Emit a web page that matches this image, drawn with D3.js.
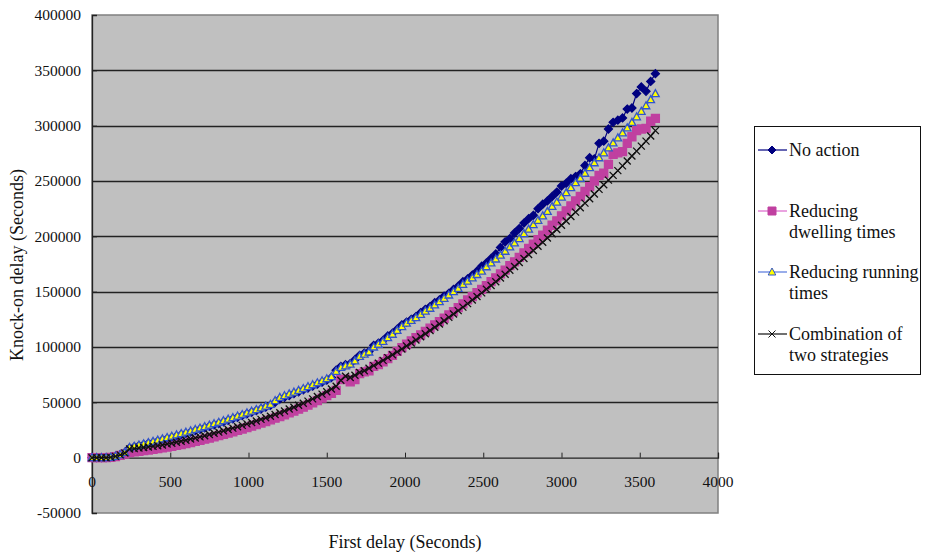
<!DOCTYPE html>
<html>
<head>
<meta charset="utf-8">
<script src="https://cdn.jsdelivr.net/npm/d3@7"></script>
<style>
  body { margin: 0; background: #fff; }
</style>
</head>
<body>
<div id="chart"></div>
<script>
// first delay (s)
var firstDelay = [0,30,60,90,120,150,180,210,240,270,300,330,360,390,420,450,480,510,540,570,
  600,630,660,690,720,750,780,810,840,870,900,930,960,990,1020,1050,1080,1110,1140,1170,
  1200,1230,1260,1290,1320,1350,1380,1410,1440,1470,1500,1530,1560,1590,1620,1650,1680,1710,1740,1770,
  1800,1830,1860,1890,1920,1950,1980,2010,2040,2070,2100,2130,2160,2190,2220,2250,2280,2310,2340,2370,
  2400,2430,2460,2490,2520,2550,2580,2610,2640,2670,2700,2730,2760,2790,2820,2850,2880,2910,2940,2970,
  3000,3030,3060,3090,3120,3150,3180,3210,3240,3270,3300,3330,3360,3390,3420,3450,3480,3510,3540,3570,3600];

var noAction = [0,0,0,0,300,1300,2800,4800,8800,9800,10800,11800,12800,13800,14900,16000,17100,18300,19500,20700,
  21900,23100,24400,25700,27000,28300,29600,30900,32300,33700,35100,36500,38000,39500,41000,42500,44000,45600,47200,50000,
  53000,54600,56200,57800,59500,61200,62900,64600,66400,68200,70000,72500,79000,82500,84000,85000,88500,92500,94500,96000,
  101500,103500,106000,110000,112500,116000,120000,122500,125000,127500,131000,134000,136500,140000,142500,146000,148500,152000,155000,159000,
  161500,165000,168500,173000,176000,180000,184000,190000,195000,198000,203000,207000,212000,216000,219000,225000,229000,232000,236000,240000,
  245500,248000,252000,254000,256500,264000,271000,270000,284000,286000,297000,303000,305000,307000,315000,316000,329000,335000,331000,340000,347000];

var dwelling = [0,0,0,0,200,900,2000,3200,4600,5200,5800,6300,6900,7500,8100,8800,9500,10300,11100,11900,
  12800,13700,14700,15700,16700,17700,18800,19900,21000,22200,23400,24600,25900,27200,28500,29900,31300,32700,34200,35700,
  37200,38800,40400,42100,43800,45600,47500,49500,51600,53800,56000,58200,60800,70500,71000,68500,70500,76000,77500,78500,
  82500,84000,86500,89500,92500,96000,99500,102500,105500,108500,111000,114000,117000,120000,123000,126000,129000,132000,135500,139000,
  142500,145500,149000,152000,155500,159000,162500,166000,169500,173500,177000,181000,185000,189000,193000,197000,201000,205500,210000,214000,
  218500,223000,227500,232000,236000,240500,245000,250000,255000,257000,265000,274000,275500,276500,284000,290000,295500,297000,297500,304000,306500];

var running = [0,0,0,0,300,1300,2800,4800,9200,10300,11400,12500,13600,14700,15800,17000,18200,19400,20600,21800,
  23000,24200,25500,26800,28100,29400,30700,32000,33400,34800,36200,37600,39000,40500,42000,43500,45000,46600,48200,51500,
  54500,56000,57600,59200,60800,62500,64200,65900,67700,69500,71300,73200,78000,81500,83000,84500,87500,91500,93500,95500,
  100000,102500,105000,108500,111500,115000,118500,121500,124000,126500,129500,132500,135000,138000,141000,144000,147000,150000,153000,156500,
  159500,162500,165500,168500,172500,176000,179500,183000,186500,190500,194000,198000,202500,206500,210500,214500,218500,222500,227000,231000,
  235500,239500,244000,248500,252500,257000,262000,266500,271000,275500,280000,284500,289000,293500,298000,303000,308000,313000,318000,323500,329000];

var combination = [0,0,0,0,300,1200,2500,4200,7800,8200,8700,9200,9700,10200,10800,11500,12300,13100,14000,14900,
  15800,16800,17800,18800,19800,20900,22000,23100,24300,25500,26700,27900,29200,30500,31800,33200,34600,36000,37500,39000,
  40600,42200,43900,45600,47400,49200,51100,53100,55200,57400,59600,62000,64500,70000,73500,72500,74500,77000,78500,80800,
  83200,85400,87900,90400,93000,95600,98200,100900,103600,106400,109200,112000,114900,117800,120800,123700,126800,129800,132900,136000,
  139200,142400,145600,148900,152200,155500,158900,162300,165800,169300,172800,176400,180000,183600,187200,191000,194700,198500,202300,206100,
  210000,213900,217900,221900,225900,230000,234000,238200,242400,246600,250800,255100,259400,263700,268100,272600,277000,281500,286000,290600,295500];

var legendLines = [["No action"], ["Reducing", "dwelling times"], ["Reducing running", "times"], ["Combination of", "two strategies"]];
var xTicks = [0,500,1000,1500,2000,2500,3000,3500,4000];
var yTicks = [-50000,0,50000,100000,150000,200000,250000,300000,350000,400000];

var W = 925, H = 554;
var FONT = "'Liberation Serif', 'DejaVu Serif', serif";
var svg = d3.select("#chart").append("svg")
  .attr("width", W).attr("height", H)
  .style("display", "block")
  .attr("font-family", FONT);

var x = d3.scaleLinear().domain([0, 4000]).range([92, 718]);
var y = d3.scaleLinear().domain([-50000, 400000]).range([513, 15]);

// plot area
svg.append("rect")
  .attr("x", x(0)).attr("y", y(400000))
  .attr("width", x(4000) - x(0)).attr("height", y(-50000) - y(400000))
  .attr("fill", "#c0c0c0").attr("stroke", "#808080").attr("stroke-width", 1.5);

// gridlines
svg.append("g").selectAll("line")
  .data(yTicks.filter(d => d > 0 && d < 400000))
  .enter().append("line")
  .attr("x1", x(0)).attr("x2", x(4000))
  .attr("y1", d => Math.round(y(d)) + 0.5).attr("y2", d => Math.round(y(d)) + 0.5)
  .attr("stroke", "#222").attr("stroke-width", 1.3);

// y axis
var yAxis = svg.append("g")
  .attr("transform", "translate(" + x(0) + ",0)")
  .call(d3.axisRight(y).tickValues(yTicks).tickSize(5).tickFormat(""));
yAxis.select(".domain").attr("stroke", "#222").attr("stroke-width", 1.3);
yAxis.selectAll(".tick line").attr("stroke", "#222");

svg.append("g").selectAll("text")
  .data(yTicks).enter().append("text")
  .attr("x", 81).attr("y", d => y(d)).attr("dy", "0.35em")
  .attr("text-anchor", "end").attr("font-size", 15.5).attr("fill", "#111")
  .attr("font-family", FONT)
  .text(d => d);

// x axis at zero
var xAxis = svg.append("g")
  .attr("transform", "translate(0," + y(0) + ")")
  .call(d3.axisTop(x).tickValues(xTicks).tickSize(5).tickFormat(""));
xAxis.select(".domain").attr("stroke", "#222").attr("stroke-width", 1.3);
xAxis.selectAll(".tick line").attr("stroke", "#222");

svg.append("g").selectAll("text")
  .data(xTicks).enter().append("text")
  .attr("x", d => x(d)).attr("y", y(0) + 24).attr("dy", "0.35em")
  .attr("text-anchor", "middle").attr("font-size", 15.5).attr("fill", "#111")
  .attr("font-family", FONT)
  .text(d => d);

// axis titles
svg.append("text")
  .attr("x", 405).attr("y", 548)
  .attr("text-anchor", "middle").attr("font-size", 18).attr("fill", "#111")
  .attr("font-family", FONT)
  .text("First delay (Seconds)");
svg.append("text")
  .attr("transform", "translate(23,265) rotate(-90)")
  .attr("text-anchor", "middle").attr("font-size", 18).attr("fill", "#111")
  .attr("font-family", FONT)
  .text("Knock-on delay (Seconds)");

// series
var styles = [
  { line: "#000080", marker: "diamond", fill: "#000080", stroke: "#000080" },
  { line: "#dd66cc", marker: "square", fill: "#c040a0", stroke: "#c040a0" },
  { line: "#5577dd", marker: "triangle", fill: "#ffff00", stroke: "#3355cc" },
  { line: "#111111", marker: "cross", fill: "none", stroke: "#111111" }
];
var values = [noAction, dwelling, running, combination];

function markerPath(kind) {
  if (kind === "diamond") return "M0,-4L4,0L0,4L-4,0Z";
  if (kind === "square") return "M-4,-4H4V4H-4Z";
  if (kind === "triangle") return "M0,-4L3.8,3L-3.8,3Z";
  return "M-3.5,-3.5L3.5,3.5M-3.5,3.5L3.5,-3.5";
}

var line = d3.line().x(d => x(d[0])).y(d => y(d[1]));

values.forEach(function (vals, i) {
  var pts = firstDelay.map((t, k) => [t, vals[k]]);
  var st = styles[i];
  var g = svg.append("g").attr("class", "series");
  g.append("path").datum(pts)
    .attr("d", line).attr("fill", "none")
    .attr("stroke", st.line).attr("stroke-width", 1.2);
  g.selectAll("path.m").data(pts).enter().append("path")
    .attr("class", "m")
    .attr("transform", d => "translate(" + x(d[0]) + "," + y(d[1]) + ")")
    .attr("d", markerPath(st.marker))
    .attr("fill", st.fill).attr("stroke", st.stroke).attr("stroke-width", 1.3);
});

// legend
var legend = svg.append("g");
legend.append("rect")
  .attr("x", 754.5).attr("y", 126.5).attr("width", 166).attr("height", 248)
  .attr("fill", "#fff").attr("stroke", "#111").attr("stroke-width", 1);
var rowY = [150, 211, 272, 334];
legendLines.forEach(function (lines, i) {
  var st = styles[i];
  var gy = rowY[i];
  legend.append("line")
    .attr("x1", 758).attr("x2", 787).attr("y1", gy).attr("y2", gy)
    .attr("stroke", st.line).attr("stroke-width", 1.2);
  legend.append("path")
    .attr("transform", "translate(772," + gy + ")")
    .attr("d", markerPath(st.marker))
    .attr("fill", st.fill).attr("stroke", st.stroke);
  lines.forEach(function (txt, j) {
    legend.append("text")
      .attr("x", 789).attr("y", gy + j * 21).attr("dy", "0.35em")
      .attr("font-size", 18).attr("fill", "#111")
      .attr("font-family", FONT)
      .text(txt);
  });
});
</script>
</body>
</html>
